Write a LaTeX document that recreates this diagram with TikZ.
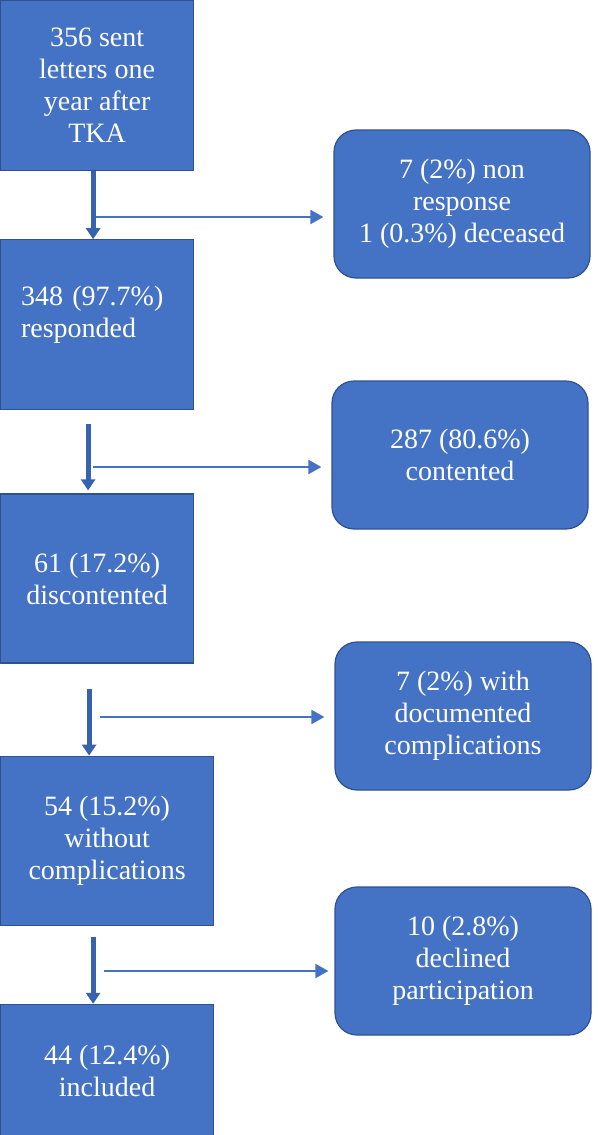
\documentclass[tikz,border=0pt]{standalone}
\usepackage{fontspec}
\setmainfont{Liberation Serif}
\usepackage{tikz}
\usetikzlibrary{arrows.meta,positioning}
\definecolor{boxblue}{HTML}{4472C4}
\definecolor{edgeblue}{HTML}{2F528F}
\definecolor{shaftblue}{HTML}{3762AE}
\tikzset{
        block/.style = {draw=edgeblue, fill=boxblue, rectangle,
            line width=1.2pt, inner sep=0pt,
            minimum width=193pt,
            minimum height=170pt,
            text=white, align=center,
            font=\fontsize{28}{32}\selectfont},
        excl/.style = {block, rounded corners=22pt,
            minimum width=256pt,
            minimum height=148pt},
        down/.style = {draw=shaftblue, line width=5pt,
            -{Triangle[width=14pt,length=11pt]}},
        arrow/.style = {draw=boxblue, line width=2pt,
            -{Triangle[width=14pt,length=13pt]}, shorten >=10pt},
    }

\begin{document}
\begin{tikzpicture}[x=1pt,y=-1pt]
    \useasboundingbox (0,0) rectangle (597,1135);

    \node[block, anchor=north west] (sent) at (0,0) {356 sent\\letters one\\year after\\TKA};
    \node[block, below=68pt of sent.south west, anchor=north west, align=left, text width=152pt, text depth=58pt] (resp) {348 (97.7\%)\\responded};
    \node[block, below=83pt of resp.south west, anchor=north west, minimum height=169pt] (disc) {61 (17.2\%)\\discontented};
    \node[block, below=92pt of disc.south west, anchor=north west, minimum width=213pt, minimum height=169pt] (nocomp) {54 (15.2\%)\\without\\complications};
    \node[block, below=78pt of nocomp.south west, anchor=north west, minimum width=213pt, minimum height=134pt] (incl) {44 (12.4\%)\\included};

    \node[excl] (nonresp) at (462,204) {7 (2\%) non\\response\\1 (0.3\%) deceased};
    \node[excl] (cont) at (460,455) {287 (80.6\%)\\contented};
    \node[excl] (docc) at (463,716) {7 (2\%) with\\documented\\complications};
    \node[excl] (decl) at (463,961) {10 (2.8\%)\\declined\\participation};

    \draw[down] ([xshift=-4pt]sent.south) -- ([xshift=-4pt]resp.north);
    \draw[down, shorten <=14pt, shorten >=3pt] ([xshift=-9pt]resp.south) -- ([xshift=-9pt]disc.north);
    \draw[down, shorten <=25pt] ([xshift=-8pt]disc.south) -- ([xshift=-18pt]nocomp.north);
    \draw[down, shorten <=11pt] ([xshift=-14pt]nocomp.south) -- ([xshift=-14pt]incl.north);

    \coordinate (h1) at (96,217);
    \coordinate (h2) at (93,467);
    \coordinate (h3) at (100,717);
    \coordinate (h4) at (104,971);
    \draw[arrow] (h1) -- (h1 -| nonresp.west);
    \draw[arrow] (h2) -- (h2 -| cont.west);
    \draw[arrow] (h3) -- (h3 -| docc.west);
    \draw[arrow, shorten >=6pt] (h4) -- (h4 -| decl.west);
\end{tikzpicture}
\end{document}
